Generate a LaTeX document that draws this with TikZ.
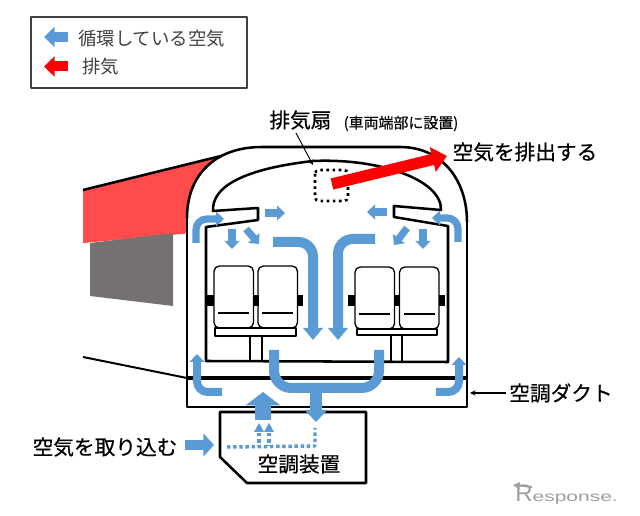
\documentclass[tikz,border=0pt]{standalone}
\usepackage{fontspec}
\usepackage{graphicx}
\setmainfont{Noto Sans CJK JP}[FakeBold=0.45]
\newfontfamily\plainfont{Noto Sans CJK JP}
\newfontfamily\logofont{Liberation Sans}
\usetikzlibrary{arrows.meta}
\definecolor{flowblue}{HTML}{5B9BD5}
\definecolor{roofred}{HTML}{FF4B4B}
\definecolor{windowgray}{HTML}{767171}
\newcommand{\labelsize}{\fontsize{15.5}{16}\selectfont}
\begin{document}
\begin{tikzpicture}[x=0.75pt,y=-0.75pt,>=stealth,line join=round,font=\labelsize,
	smallflow/.style={draw=flowblue,line width=5.4pt,-{Triangle[length=6pt,width=11pt]}},
	bigflow/.style={draw=flowblue,line width=7.5pt,rounded corners=11pt,-{Triangle[length=9pt,width=14.5pt]}},
	legendflow/.style={line width=7.5pt,-{Triangle[length=8pt,width=15pt]}},
	legendtext/.style={anchor=west,inner sep=0pt,text=black!75,font=\plainfont\fontsize{13.8}{14}\selectfont},
	seat/.style={draw,line width=1pt,rounded corners=4pt,fill=white},
	armrest/.style={fill=black},
	wall/.style={draw,line width=1.9pt}]
	\useasboundingbox (0,0) rectangle (640,516);
	% legend
	\draw[line width=0.8pt,black!75] (31,17) rectangle (247,88);
	\draw[legendflow,flowblue] (68,37)--(44,37);
	\draw[legendflow,red] (68,66.5)--(44,66.5);
	\node[legendtext] (legendblue) at (78,39){循環している空気};
	\node[legendtext] (legendred) at (82,67){排気};
	% car side
	\fill[roofred] (83,190)--(225,155)--(225,230)--(83,243)--cycle;
	\fill[windowgray] (90,243)--(173,233)--(173,306)--(90,296)--cycle;
	\draw[line width=1.9pt] (83,190)--(225,155);
	\draw[line width=1.5pt] (83,357)--(187,378);
	% body
	\fill[white] (187,407)--(187,218) .. controls (187,175) and (215,147) .. (262,147)--(400,147) .. controls (442,147) and (467,180) .. (467,222)--(467,407)--cycle;
	\draw[line width=1.9pt] (187,218) .. controls (187,175) and (215,147) .. (262,147)--(400,147) .. controls (442,147) and (467,180) .. (467,222);
	\draw[line width=1.1pt] (187,218)--(187,407)--(467,407)--(467,222);
	\draw[line width=3.5pt] (187,378)--(467,378);
	% ceiling and walls
	\draw[wall,fill=white] (213,211) .. controls (212,190) and (235,170) .. (313,161) .. controls (380,158) and (442,180) .. (441,210)--(394,206)--(394,217)--(448,226)--(448,362)--(206,361)--(206,227)--(258,220)--(258,208)--cycle;
	% fan
	\draw[line width=2pt,dash pattern=on 2pt off 2.6pt,rounded corners=3pt] (315,170) rectangle (348,201);
	\draw[->,line width=0.7pt] (296,133)--(313,165);
	% seats
	\foreach \sx in {214,258}{
		\draw[seat] (\sx,266) rectangle (\sx+39.5,328);
		\draw[line width=0.8pt] (\sx+4,313)--(\sx+35,313);
	}
	\foreach \sx in {355,399.5}{
		\draw[seat] (\sx,267) rectangle (\sx+39.5,329);
		\draw[line width=0.8pt] (\sx+4,314)--(\sx+35,314);
	}
	\draw[line width=0.8pt] (215,328) rectangle (296,336);
	\draw[line width=0.8pt] (357,329) rectangle (437,335);
	\draw[line width=0.9pt] (250,336)--(250,362) (262,336)--(262,362);
	\draw[line width=0.9pt] (391,335)--(391,362) (402,335)--(402,362);
	\foreach \ax/\aw in {206/8,253/6,297/6,348/7,394/5,439/6}{
		\fill[armrest] (\ax,295) rectangle (\ax+\aw,306);
	}
	% air flow
	\draw[smallflow,rounded corners=8pt] (196,243)--(196,219)--(224,219);
	\draw[smallflow,rounded corners=8pt] (458,242)--(458,218)--(432,218);
	\draw[smallflow] (265,213)--(285,213);
	\draw[smallflow] (387,212)--(367,212);
	\draw[smallflow] (232,229)--(232,249);
	\draw[smallflow] (246,229)--(259,244);
	\draw[smallflow] (423,229)--(423,249);
	\draw[smallflow] (407,228)--(394,245);
	\draw[bigflow] (273,242)--(313,242)--(313,340);
	\draw[bigflow] (375,239)--(338,239)--(338,340);
	\draw[smallflow,line width=6pt,rounded corners=8pt] (222,392)--(197,392)--(197,354);
	\draw[smallflow,line width=6pt,rounded corners=8pt] (436,392)--(459,392)--(459,357);
	\draw[draw=flowblue,line width=7.5pt,rounded corners=13pt] (274,350)--(274,388)--(379,388)--(379,350);
	% unit
	\draw[line width=1.9pt,fill=white] (220,412)--(366,412)--(366,483)--(247,483)--(220,457)--cycle;
	\draw[line width=9pt,draw=flowblue,-{Triangle[length=9pt,width=16.5pt]}] (316,388)--(316,422);
	\draw[line width=12pt,draw=flowblue,-{Triangle[length=10pt,width=25.5pt]}] (263,420)--(263,392);
	\fill[flowblue] (254,432)--(259,423)--(264,432)--cycle (264,432)--(269,423)--(274,432)--cycle;
	\draw[flowblue,line width=2.6pt,dotted] (227,447)--(315,446)--(315,428);
	\draw[flowblue,line width=2.6pt,dotted] (259,433)--(259,446) (269,433)--(269,446);
	\draw[line width=7.5pt,draw=flowblue,-{Triangle[length=8pt,width=17pt]}] (185,445)--(214,445);
	% red arrow
	\draw[line width=8.5pt,red,-{Triangle[length=11pt,width=18.5pt]}] (332,184)--(447,156);
	\draw[->,line width=0.8pt] (506,393)--(470,393);
	% labels
	\node[inner sep=0pt] (fanlabel) at (300.5,120){排気扇};
	\node[inner sep=0pt,font=\fontsize{11.2}{12}\selectfont] (fannote) at (401,123.5){(車両端部に設置)};
	\node[inner sep=0pt] (exhaustlabel) at (525,152){空気を排出する};
	\node[inner sep=0pt] (ductlabel) at (561,393){空調ダクト};
	\node[inner sep=0pt] (intakelabel) at (105,447){空気を取り込む};
	\node[inner sep=0pt] (unitlabel) at (299,464){空調装置};
	% logo
	\node[anchor=base west,inner sep=0pt,text=black!38,font=\logofont] (logo) at (515,502){{\fontsize{18}{18}\selectfont R}\scalebox{1.5}[1]{\fontsize{10.5}{11}\selectfont esponse.}};
	\draw[-{Triangle[length=5pt,width=5pt]},black!38,line width=1.3pt] (532,487)--(513,485);
\end{tikzpicture}
\end{document}
